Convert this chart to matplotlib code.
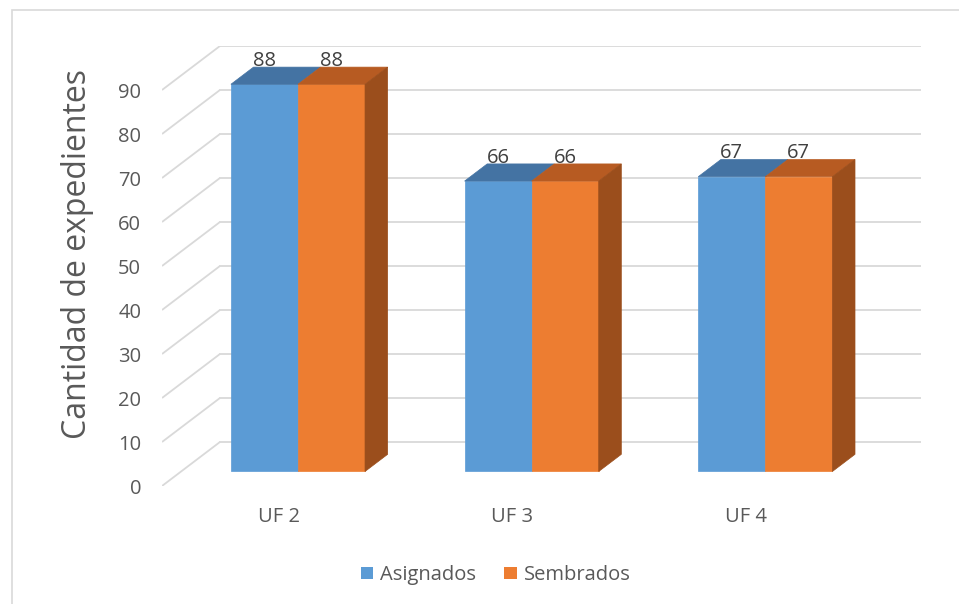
import matplotlib.pyplot as plt
from matplotlib.patches import Polygon, Patch, Rectangle

plt.rcParams['font.family'] = ['Open Sans', 'DejaVu Sans']

categories = ['UF 2', 'UF 3', 'UF 4']
asignados = [88, 66, 67]
sembrados = [88, 66, 67]
yticks = list(range(0, 100, 10))

# oblique "3d" look: depth offset in data units
DX, DY = 0.248, 10.0
D0, D1 = 0.33, 0.72  # depth range of bars
W = 0.287

blue = '#5B9BD5'
blue_top = '#4473A3'
orange = '#ED7D31'
orange_top = '#B75B22'
orange_side = '#9B4E1C'
grid_c = '#D9D9D9'
txt_c = '#595959'


def proj(x, v, d):
    return (x + d * DX, v + d * DY)


fig = plt.figure(figsize=(9.59, 6.04), dpi=100)
fig.patches.append(Rectangle((12 / 959, -0.1), 1.2, 1.1 - 10 / 604, transform=fig.transFigure,
                             fill=False, edgecolor='#D9D9D9', lw=1.2))
ax = fig.add_axes([162 / 959, 1 - 486 / 604, 759 / 959, 440 / 604])
ax.set_xlim(-0.5, 2.5 + DX)
ax.set_ylim(0, 100)

# wall gridlines
for v in yticks:
    ax.plot([-0.5, -0.5 + DX], [v, v + DY], color=grid_c, lw=1.3, zorder=1, solid_capstyle='butt')
    ax.plot([-0.5 + DX, 2.5 + DX], [v + DY, v + DY], color=grid_c, lw=1.3, zorder=1)


def bar3d(x0, x1, v, front, top, side=None):
    faces = [
        ([proj(x0, 0, D0), proj(x1, 0, D0), proj(x1, v, D0), proj(x0, v, D0)], front),
        ([proj(x0, v, D0), proj(x1, v, D0), proj(x1, v, D1), proj(x0, v, D1)], top),
    ]
    if side is not None:
        faces.append(([proj(x1, 0, D0), proj(x1, 0, D1), proj(x1, v, D1), proj(x1, v, D0)], side))
    for pts, c in faces:
        ax.add_patch(Polygon(pts, closed=True, facecolor=c, edgecolor=c, lw=0.5, zorder=3))


for i, (a, s) in enumerate(zip(asignados, sembrados)):
    bar3d(i - W, i, a, blue, blue_top)
    bar3d(i, i + W, s, orange, orange_top, orange_side)
    for xc, v in [(i - W / 2, a), (i + W / 2, s)]:
        px, py = proj(xc, v, D1)
        ax.text(xc + D0 * DX, py + 0.3, str(v), ha='center', va='baseline',
                fontsize=14.5, color='#404040', zorder=5)

ax.set_yticks(yticks)
ax.set_xticks(range(len(categories)))
ax.set_xticklabels(categories)
ax.tick_params(axis='y', length=0, pad=15, labelsize=14.5, labelcolor=txt_c)
ax.tick_params(axis='x', length=0, pad=15, labelsize=14.5, labelcolor=txt_c)
for sp in ax.spines.values():
    sp.set_visible(False)

fig.text(78 / 959, 1 - 254 / 604, 'Cantidad de expedientes', rotation=90,
         ha='center', va='center', fontsize=23, color=txt_c)

handles = [Patch(facecolor=blue, label='Asignados'), Patch(facecolor=orange, label='Sembrados')]
fig.legend(handles=handles, loc='center', bbox_to_anchor=(0.517, 1 - 575 / 604), ncol=2,
           frameon=False, fontsize=14.5, labelcolor=txt_c, handlelength=0.6, handleheight=0.6,
           handletextpad=0.35, columnspacing=1.4)

fig.savefig('out.png', dpi=100)
